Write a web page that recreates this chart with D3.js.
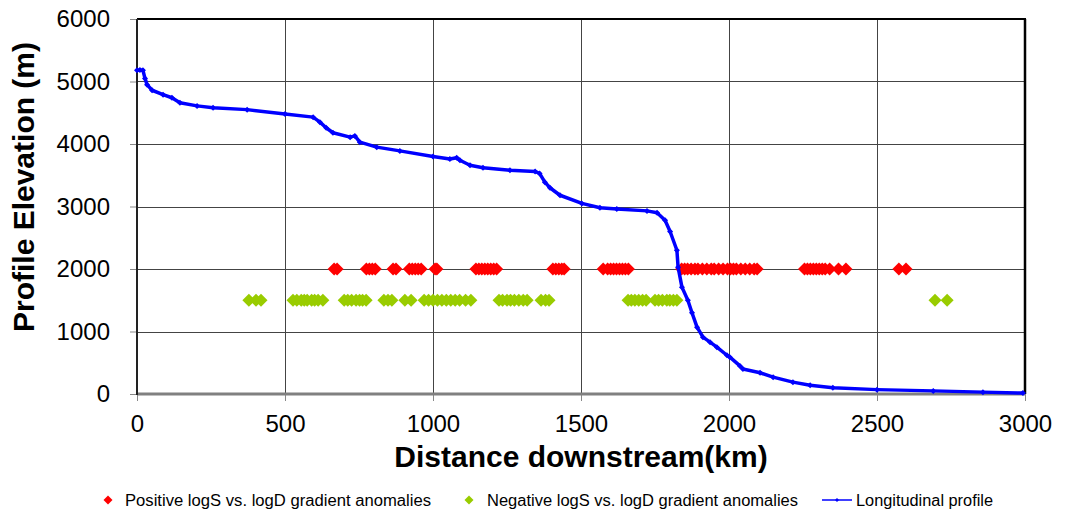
<!DOCTYPE html>
<html>
<head>
<meta charset="utf-8">
<script src="https://cdn.jsdelivr.net/npm/d3@7"></script>
<style>
  html, body { margin: 0; padding: 0; background: #fff; }
  svg { display: block; font-family: "Liberation Sans", Arial, sans-serif; }
</style>
</head>
<body>
<svg id="chart" width="1066" height="514"></svg>
<script>
// ---- data ----
const xTicks = [0, 500, 1000, 1500, 2000, 2500, 3000];
const yTicks = [0, 1000, 2000, 3000, 4000, 5000, 6000];

// Longitudinal profile: distance (km), elevation (m)
const profileDist = [0, 10, 20, 27, 34, 51, 88, 118, 145, 203, 257, 372, 500, 595, 618, 639, 662, 720, 736, 753, 810, 888, 1000, 1057, 1080, 1091, 1125, 1169, 1260, 1345, 1360, 1378, 1395, 1429, 1503, 1564, 1621, 1723, 1757, 1784, 1801, 1824, 1828, 1841, 1861, 1875, 1892, 1912, 1936, 1959, 1993, 2003, 2037, 2047, 2105, 2149, 2216, 2274, 2351, 2500, 2690, 2858, 2993];
const profileElev = [5180, 5185, 5180, 5050, 4950, 4860, 4790, 4740, 4660, 4610, 4580, 4550, 4480, 4430, 4350, 4260, 4180, 4110, 4130, 4030, 3950, 3890, 3800, 3760, 3780, 3740, 3660, 3620, 3580, 3560, 3530, 3390, 3300, 3180, 3050, 2980, 2960, 2930, 2900, 2780, 2600, 2300, 2030, 1710, 1500, 1300, 1070, 910, 830, 750, 620, 590, 450, 400, 340, 270, 190, 140, 100, 70, 50, 30, 15];

// Positive anomalies (plotted at 2000 m)
const positiveDist = [666, 676, 775, 785, 795, 805, 865, 875, 920, 930, 940, 950, 960, 1007, 1013,
  1145, 1155, 1165, 1175, 1185, 1195, 1205, 1215, 1405, 1415, 1425, 1435, 1443,
  1575, 1590, 1600, 1610, 1620, 1630, 1640, 1650, 1660,
  1840, 1850, 1860, 1872, 1885, 1895, 1910, 1925, 1940, 1950, 1965, 1980, 1995, 2005, 2015, 2025, 2040, 2055, 2070, 2085, 2095,
  2255, 2265, 2275, 2285, 2295, 2305, 2315, 2325, 2340, 2370, 2395, 2574, 2598];
const positiveElev = 2000;

// Negative anomalies (plotted at 1500 m)
const negativeDist = [378, 402, 419, 527, 540, 555, 565, 575, 590, 600, 612, 628,
  700, 712, 725, 740, 752, 762, 774, 834, 848, 861, 905, 926,
  970, 985, 1000, 1015, 1030, 1045, 1060, 1075, 1090, 1110, 1128,
  1223, 1235, 1250, 1262, 1275, 1290, 1305, 1318, 1365, 1380, 1392,
  1659, 1670, 1682, 1695, 1708, 1720, 1750, 1762, 1775, 1790, 1800, 1812, 1824, 2696, 2737];
const negativeElev = 1500;

// ---- layout ----
const svg = d3.select("#chart");
const L = 137, R = 1025, T = 19, B = 394;
const x = d3.scaleLinear().domain([0, 3000]).range([L, R]);
const y = d3.scaleLinear().domain([0, 6000]).range([B, T]);

// gridlines
const grid = svg.append("g");
grid.selectAll("line.v").data(xTicks.slice(1, -1)).join("line")
  .attr("x1", d => Math.round(x(d)) + 0.5).attr("x2", d => Math.round(x(d)) + 0.5)
  .attr("y1", T).attr("y2", B).attr("stroke", "#444").attr("stroke-width", 1);
grid.selectAll("line.h").data(yTicks.slice(1, -1)).join("line")
  .attr("y1", d => Math.round(y(d)) + 0.5).attr("y2", d => Math.round(y(d)) + 0.5)
  .attr("x1", L).attr("x2", R).attr("stroke", "#444").attr("stroke-width", 1);

// axes
const xAxis = d3.axisBottom(x).tickValues(xTicks).tickSize(7).tickPadding(14).tickFormat(d3.format("d"));
const yAxis = d3.axisLeft(y).tickValues(yTicks).tickSize(7).tickPadding(20).tickFormat(d3.format("d"));
const gx = svg.append("g").attr("transform", `translate(0,${B})`).call(xAxis);
const gy = svg.append("g").attr("transform", `translate(${L},0)`).call(yAxis);
[gx, gy].forEach(g => {
  g.select(".domain").remove();
  g.selectAll(".tick line").attr("stroke", "#888").attr("stroke-width", 1);
  g.selectAll(".tick text").attr("fill", "#000").style("font-size", "24px")
    .style("font-family", '"Liberation Sans", Arial, sans-serif');
});

// plot borders
svg.append("line").attr("x1", L).attr("x2", R).attr("y1", B).attr("y2", B)
  .attr("stroke", "#808080").attr("stroke-width", 3);
svg.append("line").attr("x1", L).attr("x2", R + 1).attr("y1", T).attr("y2", T)
  .attr("stroke", "#000").attr("stroke-width", 2);
svg.append("line").attr("x1", R).attr("x2", R).attr("y1", T).attr("y2", B)
  .attr("stroke", "#000").attr("stroke-width", 2.5);
svg.append("line").attr("x1", L).attr("x2", L).attr("y1", T).attr("y2", B + 1)
  .attr("stroke", "#222").attr("stroke-width", 2);

// diamond path
const diamond = s => `M0,${-s}L${s},0L0,${s}L${-s},0Z`;

// anomalies
svg.append("g").selectAll("path").data(negativeDist).join("path")
  .attr("d", diamond(6.5))
  .attr("transform", d => `translate(${x(d)},${y(negativeElev)})`)
  .attr("fill", "#99CC00");
svg.append("g").selectAll("path").data(positiveDist).join("path")
  .attr("d", diamond(6.5))
  .attr("transform", d => `translate(${x(d)},${y(positiveElev)})`)
  .attr("fill", "#FF0000");

// profile line
const profile = profileDist.map((d, i) => [d, profileElev[i]]);
svg.append("path").datum(profile)
  .attr("d", d3.line().x(d => x(d[0])).y(d => y(d[1])))
  .attr("fill", "none").attr("stroke", "#0000FF").attr("stroke-width", 3.5)
  .attr("stroke-linejoin", "round");
svg.append("g").selectAll("path").data(profile).join("path")
  .attr("d", diamond(3))
  .attr("transform", d => `translate(${x(d[0])},${y(d[1])})`)
  .attr("fill", "#0000FF");

// axis titles
svg.append("text").attr("x", 581).attr("y", 467).attr("text-anchor", "middle")
  .style("font-size", "30px").style("font-weight", "bold").text("Distance downstream(km)");
svg.append("text").attr("transform", "translate(34,187) rotate(-90)").attr("text-anchor", "middle")
  .style("font-size", "30px").style("font-weight", "bold").text("Profile Elevation (m)");

// legend
const leg = svg.append("g").style("font-size", "16px");
leg.append("path").attr("d", diamond(4.5)).attr("transform", "translate(108,500)").attr("fill", "#FF0000");
leg.append("text").attr("x", 125).attr("y", 506).attr("textLength", 306).attr("lengthAdjust", "spacingAndGlyphs")
  .text("Positive logS vs. logD gradient anomalies");
leg.append("path").attr("d", diamond(4.5)).attr("transform", "translate(469,500)").attr("fill", "#99CC00");
leg.append("text").attr("x", 487).attr("y", 506).attr("textLength", 311).attr("lengthAdjust", "spacingAndGlyphs")
  .text("Negative logS vs. logD gradient anomalies");
leg.append("line").attr("x1", 822).attr("x2", 852).attr("y1", 500).attr("y2", 500)
  .attr("stroke", "#0000FF").attr("stroke-width", 1.5);
leg.append("path").attr("d", diamond(2)).attr("transform", "translate(837,500)").attr("fill", "#0000FF");
leg.append("text").attr("x", 856).attr("y", 506).attr("textLength", 137).attr("lengthAdjust", "spacingAndGlyphs")
  .text("Longitudinal profile");
</script>
</body>
</html>
